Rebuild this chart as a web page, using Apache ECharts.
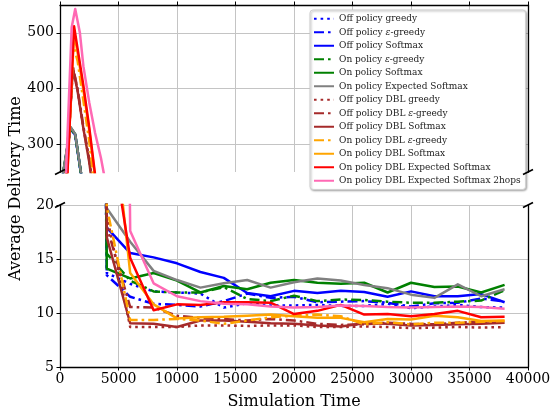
<!DOCTYPE html>
<html><head><meta charset="utf-8">
<script src="https://cdn.jsdelivr.net/npm/echarts@6/dist/echarts.min.js"></script>
<style>html,body{margin:0;padding:0;background:#fff}#c{width:554px;height:411px}</style>
</head><body><div id="c"></div><script>
const FONT = 'DejaVu Serif';

const seriesNames = [
  'Off policy greedy', 'Off policy ε-greedy', 'Off policy Softmax',
  'On policy ε-greedy', 'On policy Softmax', 'On policy Expected Softmax',
  'Off policy DBL greedy', 'Off policy DBL ε-greedy', 'Off policy DBL Softmax',
  'On policy DBL ε-greedy', 'On policy DBL Softmax', 'On policy DBL Expected Softmax',
  'On policy DBL Expected Softmax 2hops'
];
const seriesColors = ['#0000ff','#0000ff','#0000ff','#008000','#008000','#808080',
  '#a52a2a','#a52a2a','#a52a2a','#ffa500','#ffa500','#ff0000','#ff69b4'];
const seriesDash = ['dot','dashdot','solid','dashdot','solid','solid',
  'dot','dashdot','solid','dashdot','solid','solid','solid'];

// early (warm-up) samples: [time, delay]
const earlyOffGreedy   = [[0,212],[900,328],[1300,316],[2000,218],[3000,113]];
const earlyOffEps      = [[0,212],[900,328],[1300,316],[2000,218],[3000,113]];
const earlyOffSoftmax  = [[0,213],[900,329],[1300,317],[2000,219],[3000,114]];
const earlyOnEps       = [[0,213],[900,329],[1300,317],[2000,219],[3000,114]];
const earlyOnSoftmax   = [[0,214],[900,330],[1300,318],[2000,219],[3000,114]];
const earlyOnExpSoft   = [[0,215],[900,331],[1300,318],[2000,220],[3000,115]];
const earlyDblGreedy   = [[500,228],[1100,437],[1500,398],[2000,330],[2500,270],[3000,190]];
const earlyDblEps      = [[500,230],[1100,439],[1500,400],[2000,332],[2500,272],[3000,192]];
const earlyDblSoftmax  = [[500,228],[1100,436],[1500,396],[2000,328],[2500,268],[3000,188]];
const earlyOnDblEps    = [[500,245],[1100,481],[1500,450],[2000,378],[2500,305],[3000,215]];
const earlyOnDblSoft   = [[600,235],[1200,500],[1500,465],[2000,397],[2500,325],[3000,240]];
const earlyOnDblExp    = [[600,230],[1200,512],[1500,472],[2000,405],[2500,330],[3000,245]];
const earlyOnDblExp2   = [[500,240],[1000,510],[1300,543],[1700,500],[2000,440],[2500,375],[3000,320],[3500,275]];

// later samples at these times
const lateX = [4000,6000,8000,10000,12000,14000,16000,18000,20000,22000,24000,26000,28000,30000,32000,34000,36000,38000];
const lateOffGreedy  = [13.7,12.7,12.0,11.9,11.8,10.5,10.9,10.7,10.7,10.75,10.65,10.65,10.85,10.45,10.6,10.75,10.55,10.5];
const lateOffEps     = [13.5,11.5,10.85,10.75,10.6,11.1,11.8,11.4,11.5,11.0,11.05,11.1,10.95,10.6,10.9,10.95,11.35,11.05];
const lateOffSoftmax = [17.9,15.55,15.15,14.6,13.8,13.25,11.85,11.55,12.05,11.85,12.05,11.95,11.5,12.0,11.55,11.55,11.75,11.0];
const lateOnEps      = [15.5,13.0,12.0,11.9,11.9,12.4,11.3,11.1,11.6,11.1,11.25,11.2,11.05,10.95,10.95,11.05,11.15,12.1];
const lateOnSoftmax  = [14.1,13.2,13.7,13.0,11.9,12.5,12.2,12.8,13.05,12.8,12.7,12.8,11.9,12.8,12.4,12.45,11.9,12.6];
const lateOnExpSoft  = [19.7,16.6,13.9,13.05,12.35,12.75,13.05,12.35,12.85,13.2,13.0,12.6,12.3,11.7,11.4,12.65,11.55,12.2];
const lateDblGreedy  = [19.0,8.7,8.7,8.7,8.85,8.85,8.8,8.85,8.85,8.7,8.7,8.75,8.7,8.6,8.65,8.7,8.65,8.7];
const lateDblEps     = [18.0,10.55,10.5,9.75,9.55,9.45,9.3,9.45,9.3,9.0,8.9,8.95,9.1,9.0,8.95,9.1,9.2,9.2];
const lateDblSoftmax = [17.0,9.05,9.0,8.7,9.3,9.3,9.2,9.05,9.0,8.85,8.75,9.05,9.0,8.85,8.9,8.95,9.0,9.1];
const lateOnDblEps   = [19.8,9.35,9.35,9.45,9.3,9.0,9.3,9.6,9.75,9.85,9.7,8.95,9.15,8.95,9.1,9.1,9.2,9.25];
const lateOnDblSoft  = [34,13.7,10.8,9.5,9.6,9.65,9.75,9.85,9.7,9.55,9.55,9.15,9.45,9.4,9.75,9.6,9.25,9.3];
const lateOnDblExp   = [29,15.1,10.25,10.8,10.75,11.0,11.0,10.95,9.9,10.2,10.75,9.85,9.9,9.7,9.9,10.2,9.6,9.65];
const lateOnDblExp2  = [219,17.6,12.75,11.55,11.1,10.85,10.8,10.6,10.5,10.55,10.7,10.65,10.55,10.5,10.55,10.6,10.55,10.4];

const earlyAll = [earlyOffGreedy,earlyOffEps,earlyOffSoftmax,earlyOnEps,earlyOnSoftmax,earlyOnExpSoft,
  earlyDblGreedy,earlyDblEps,earlyDblSoftmax,earlyOnDblEps,earlyOnDblSoft,earlyOnDblExp,earlyOnDblExp2];
const lateAll = [lateOffGreedy,lateOffEps,lateOffSoftmax,lateOnEps,lateOnSoftmax,lateOnExpSoft,
  lateDblGreedy,lateDblEps,lateDblSoftmax,lateOnDblEps,lateOnDblSoft,lateOnDblExp,lateOnDblExp2];

const topTicks = [300, 400, 500];

const LW = 2.5;
const dashMap = { solid: 'solid', dot: [2.6, 4], dashdot: [10, 4, 2.6, 4] };

const chart = echarts.init(document.getElementById('c'), null, {renderer: 'canvas'});

const series = [];
[0, 1].forEach(function (g) {
  seriesNames.forEach(function (name, i) {
    const data = earlyAll[i].concat(lateX.map(function (x, k) { return [x, lateAll[i][k]]; }));
    series.push({
      name: name, type: 'line', xAxisIndex: g, yAxisIndex: g * 2,
      data: data, symbol: 'none', clip: true, animation: false,
      lineStyle: { color: seriesColors[i], width: LW, type: dashMap[seriesDash[i]], cap: 'butt', join: 'round' },
      itemStyle: { color: seriesColors[i] },
      z: 2 + i
    });
  });
});

const gridLine = { show: true, lineStyle: { color: '#c4c4c4', width: 1 } };
const spine = { show: true, lineStyle: { color: '#000', width: 1.3 } };
const labelStyle = { fontFamily: FONT, fontSize: 14, color: '#000' };
const plain = function (v) { return String(v); };

const option = {
  animation: false,
  backgroundColor: '#fff',
  grid: [
    { left: 60, right: 26, top: 5, height: 167 },
    { left: 60, right: 26, top: 205, height: 166 }
  ],
  xAxis: [
    { gridIndex: 0, type: 'value', min: 0, max: 40000, interval: 5000, position: 'top',
      axisLine: spine, axisTick: { show: true, inside: false, length: 3.5, lineStyle: { color: '#000' } },
      axisLabel: { show: false }, splitLine: gridLine },
    { gridIndex: 1, type: 'value', min: 0, max: 40000, interval: 5000, position: 'bottom',
      axisLine: spine, axisTick: { show: true, length: 3.5, lineStyle: { color: '#000' } },
      axisLabel: Object.assign({ margin: 5, formatter: plain }, labelStyle), splitLine: gridLine,
      name: 'Simulation Time', nameLocation: 'middle', nameGap: 27,
      nameTextStyle: { fontFamily: FONT, fontSize: 16, color: '#000' } }
  ],
  yAxis: [
    { gridIndex: 0, type: 'value', min: 250, max: 550, interval: 50, position: 'left',
      axisLine: spine,
      axisTick: { show: true, length: 3.5, customValues: topTicks, lineStyle: { color: '#000' } },
      axisLabel: Object.assign({ margin: 6, customValues: topTicks, formatter: plain }, labelStyle),
      splitLine: gridLine },
    { gridIndex: 0, type: 'value', min: 250, max: 550, position: 'right',
      axisLine: spine, axisTick: { show: false }, axisLabel: { show: false }, splitLine: { show: false } },
    { gridIndex: 1, type: 'value', min: 5, max: 20, interval: 5, position: 'left',
      axisLine: spine, axisTick: { show: true, length: 3.5, lineStyle: { color: '#000' } },
      axisLabel: Object.assign({ margin: 6, formatter: plain }, labelStyle), splitLine: gridLine },
    { gridIndex: 1, type: 'value', min: 5, max: 20, position: 'right',
      axisLine: spine, axisTick: { show: false }, axisLabel: { show: false }, splitLine: { show: false } }
  ],
  legend: {
    data: seriesNames, orient: 'vertical', left: 310, top: 10,
    itemWidth: 20, itemHeight: 10, itemGap: 2,
    itemStyle: { color: 'rgba(0,0,0,0)', borderWidth: 0, opacity: 0 },
    textStyle: { fontFamily: FONT, fontSize: 9, color: '#222', lineHeight: 11.5,
      rich: { e: { fontFamily: FONT, fontSize: 9, fontStyle: 'italic', color: '#222' } } },
    formatter: function (n) { return n.replace('ε', '{e|ε}'); },
    backgroundColor: '#fff', borderColor: '#d0d0d0', borderWidth: 1, borderRadius: 3,
    padding: [3, 5, 3, 3],
    shadowColor: 'rgba(0,0,0,0.3)', shadowBlur: 2, shadowOffsetX: 1, shadowOffsetY: 1
  },
  series: series
};
chart.setOption(option);

// axis-break marks and shared y label
const tl = chart.convertToPixel({ gridIndex: 0 }, [0, 250]);
const tr = chart.convertToPixel({ gridIndex: 0 }, [40000, 250]);
const bl = chart.convertToPixel({ gridIndex: 1 }, [0, 20]);
const br = chart.convertToPixel({ gridIndex: 1 }, [40000, 20]);
function brk(p) {
  return { type: 'line', z: 100, shape: { x1: p[0] - 5, y1: p[1] + 2.5, x2: p[0] + 5, y2: p[1] - 2.5 },
    style: { stroke: '#000', lineWidth: 1.8 } };
}
chart.setOption({
  graphic: [
    brk(tl), brk(tr), brk(bl), brk(br),
    { type: 'text', x: 16, y: (tl[1] + bl[1]) / 2, rotation: Math.PI / 2,
      style: { text: 'Average Delivery Time', font: '16px "DejaVu Serif"', fill: '#000',
        textAlign: 'center', textVerticalAlign: 'middle' } }
  ]
});
</script></body></html>
